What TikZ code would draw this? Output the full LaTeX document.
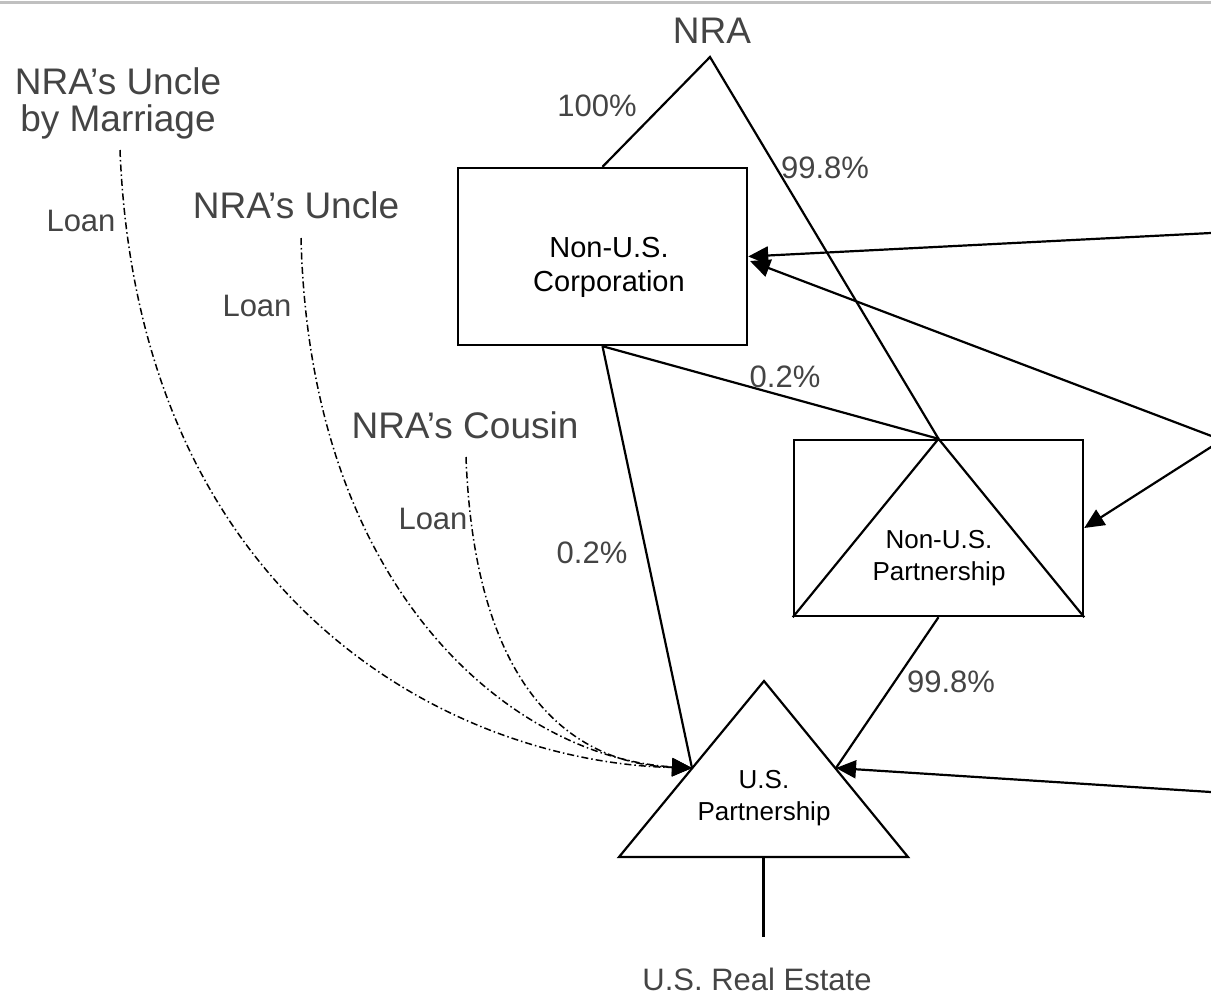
\documentclass[tikz,border=0pt]{standalone}
\usepackage{fontspec}
\setmainfont{Liberation Sans}
\usetikzlibrary{arrows.meta}
\definecolor{labelgray}{RGB}{68,68,68}
\definecolor{rulegray}{RGB}{192,192,192}
\begin{document}
\begin{tikzpicture}[x=1pt,y=-1pt,
  big/.style={font=\fontsize{37}{40}\selectfont, text=labelgray, inner sep=0pt, anchor=base},
  small/.style={font=\fontsize{31}{34}\selectfont, text=labelgray, inner sep=0pt, anchor=base},
  boxtext/.style={font=\fontsize{29}{34}\selectfont, inner sep=0pt, anchor=base},
  parttext/.style={font=\fontsize{26}{32}\selectfont, inner sep=0pt, anchor=base},
  entity/.style={draw, line width=2.4pt, inner sep=0pt},
  own/.style={line width=2.2pt},
  flow/.style={line width=2.2pt, -{Triangle[length=20pt,width=18pt]}},
  loan/.style={line width=1.5pt, dash pattern=on 7pt off 3pt on 1.5pt off 3pt,
               -{Triangle[length=20pt,width=18pt]}},
]
\useasboundingbox (0,0) rectangle (1211,997);
\clip (0,0) rectangle (1211,997);

% rule along the top
\coordinate (ruleL) at (0,2);
\coordinate (ruleR) at (1211,2);
\draw[rulegray, line width=3pt] (ruleL) -- (ruleR);

% owner
\node[big] (nra) at (712,43) {NRA};
\coordinate (apex) at (710,57);

% Non-U.S. corporation
\node[entity, minimum width=289pt, minimum height=177pt] (corp) at (602.5,256.5) {};
\node[boxtext] (corpA) at (609,257) {Non-U.S.};
\node[boxtext] (corpB) at (609,291) {Corporation};

% Non-U.S. partnership (box with inscribed triangle)
\node[entity, minimum width=289pt, minimum height=176pt] (npart) at (938.5,528) {};
\draw[own, line join=miter] (npart.south west) -- (npart.north) -- (npart.south east);
\node[parttext] (npartA) at (939,548) {Non-U.S.};
\node[parttext] (npartB) at (939,580) {Partnership};

% U.S. partnership (triangle)
\coordinate (uspT) at (764,681);
\coordinate (uspBL) at (619,857);
\coordinate (uspBR) at (908,857);
\coordinate (uspB) at (763.5,857);
\coordinate (uspL) at (692,768);
\coordinate (uspR) at (836,768);
\draw[own, line join=miter] (uspT) -- (uspBL) -- (uspBR) -- cycle;
\node[parttext] (uspA) at (764,788) {U.S.};
\node[parttext] (uspC) at (764,820) {Partnership};

% real estate
\coordinate (reTop) at (763.5,937);
\draw[own] (uspB) -- (reTop);
\node[small] (re) at (757,990) {U.S. Real Estate};

% ownership lines
\draw[own] (corp.north) -- (apex) -- (npart.north);
\draw[own] (corp.south) -- (uspL);
\draw[own] (corp.south) -- (npart.north);
\draw[own] (npart.south) -- (uspR);

\node[small] (p100) at (597,116) {100\%};
\node[small] (p998a) at (825,178) {99.8\%};
\node[small] (p02a) at (785,387) {0.2\%};
\node[small] (p02b) at (592,563) {0.2\%};
\node[small] (p998b) at (951,692) {99.8\%};

% arrows coming in from the right
\coordinate (r1) at (1211,233);
\coordinate (r2) at (1222,440);
\coordinate (r4) at (1211,792);
\coordinate (corpIn) at (750,261);
\draw[flow] (r1) -- (corp.east);
\draw[flow] (r2) -- (corpIn);
\draw[flow] (r2) -- (npart.east);
\draw[flow] (r4) -- (uspR);

% relatives and their loans
\node[big] (uncleM1) at (118,94) {NRA’s Uncle};
\node[big] (uncleM2) at (118,131) {by Marriage};
\node[big] (uncle) at (296,218) {NRA’s Uncle};
\node[big] (cousin) at (465,438) {NRA’s Cousin};

\coordinate (l1) at (120,150);
\coordinate (l2) at (301,238);
\coordinate (l3) at (466,457);
\draw[loan] (l1) .. controls (138,600) and (450,762) .. (uspL);
\draw[loan] (l2) .. controls (310,600) and (520,758) .. (uspL);
\draw[loan] (l3) .. controls (475,700) and (580,764) .. (uspL);

\node[small] (loan1) at (81,231) {Loan};
\node[small] (loan2) at (257,316) {Loan};
\node[small] (loan3) at (433,529) {Loan};
\end{tikzpicture}
\end{document}
